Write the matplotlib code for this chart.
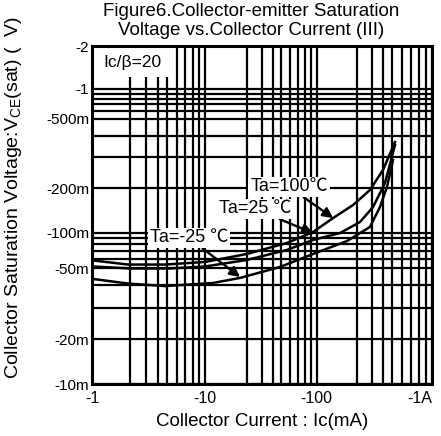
import numpy as np
import matplotlib
matplotlib.use("Agg")
import matplotlib.pyplot as plt
from matplotlib.ticker import FixedLocator, FixedFormatter, NullFormatter
from matplotlib.patches import Rectangle

plt.rcParams['font.family'] = ['Liberation Sans', 'DejaVu Sans']
plt.rcParams['mathtext.fontset'] = 'custom'
plt.rcParams['mathtext.rm'] = 'Liberation Sans'

# ---------------- data ----------------
ic_100 = [1.02, 1.93, 4.76, 10, 20, 56, 93, 133, 188, 283, 398, 529]
vce_100 = [0.058, 0.0535, 0.0535, 0.0563, 0.0658, 0.0817, 0.101, 0.1256, 0.1537, 0.194, 0.254, 0.368]

ic_25 = [1.02, 2.0, 5.28, 10, 20, 56, 93, 150, 218, 307, 419, 529]
vce_25 = [0.0515, 0.0497, 0.0497, 0.0515, 0.0585, 0.0712, 0.0867, 0.0994, 0.118, 0.149, 0.2136, 0.354]

ic_m25 = [1.02, 1.93, 4.76, 11.4, 17.9, 48.7, 93, 169, 283, 368, 442, 511]
vce_m25 = [0.0434, 0.0409, 0.0396, 0.0412, 0.0440, 0.0510, 0.0658, 0.0849, 0.1093, 0.149, 0.203, 0.290]

x_ticks = [1, 10, 100, 1000]
x_ticklabels = ['-1', '-10', '-100', '-1A']
y_ticks = [0.01, 0.02, 0.05, 0.1, 0.2, 0.5, 1, 2]
y_ticklabels = ['-10m', '-20m', '-50m', '-100m', '-200m', '-500m', '-1', '-2']

# ---------------- scale (piecewise log, as drawn in the original sheet) ----------------
x_anchor_vals = [1, 2, 5, 10, 20, 50, 100, 200, 500, 1000]
x_anchor_pos = [92, 130, 167, 205, 246.7, 281, 316.7, 356.7, 391.7, 432.3]
y_anchor_vals = [0.01, 0.02, 0.05, 0.1, 0.2, 0.5, 1, 2]
y_anchor_pos = [0, 45, 116, 151.3, 196, 265, 295, 338]


def make_scale(vals, pos):
    L = np.log10(np.asarray(vals, float))
    P = np.asarray(pos, float)
    s0 = (P[1] - P[0]) / (L[1] - L[0])
    s1 = (P[-1] - P[-2]) / (L[-1] - L[-2])

    def fwd(v):
        v = np.asarray(v, float)
        lv = np.log10(np.clip(v, 1e-12, None))
        out = np.interp(lv, L, P)
        out = np.where(lv < L[0], P[0] + (lv - L[0]) * s0, out)
        out = np.where(lv > L[-1], P[-1] + (lv - L[-1]) * s1, out)
        return out

    def inv(p):
        p = np.asarray(p, float)
        lv = np.interp(p, P, L)
        lv = np.where(p < P[0], L[0] + (p - P[0]) / s0, lv)
        lv = np.where(p > P[-1], L[-1] + (p - P[-1]) / s1, lv)
        return 10 ** lv

    return fwd, inv


fig = plt.figure(figsize=(4.41, 4.36), dpi=100)
ax = fig.add_axes([92 / 441, 52 / 436, 340.3 / 441, 338 / 436])

ax.set_xscale('function', functions=make_scale(x_anchor_vals, x_anchor_pos))
ax.set_yscale('function', functions=make_scale(y_anchor_vals, y_anchor_pos))
ax.set_xlim(1, 1000)
ax.set_ylim(0.01, 2)

x_minor = [m * d for d in (1, 10, 100) for m in range(2, 10)]
y_minor = [m * d for d in (0.01, 0.1) for m in range(2, 10) if m not in (2, 5)]

ax.xaxis.set_major_locator(FixedLocator(x_ticks))
ax.xaxis.set_major_formatter(FixedFormatter(x_ticklabels))
ax.xaxis.set_minor_locator(FixedLocator(x_minor))
ax.xaxis.set_minor_formatter(NullFormatter())
ax.yaxis.set_major_locator(FixedLocator(y_ticks))
ax.yaxis.set_major_formatter(FixedFormatter(y_ticklabels))
ax.yaxis.set_minor_locator(FixedLocator(y_minor))
ax.yaxis.set_minor_formatter(NullFormatter())

ax.grid(which='both', color='black', linewidth=1.6)
ax.tick_params(which='both', length=0, colors='black')
ax.tick_params(axis='x', pad=5, labelsize=11.5)
ax.tick_params(axis='y', pad=2, labelsize=11)
for sp in ax.spines.values():
    sp.set_linewidth(2.2)
    sp.set_zorder(5)

fig.canvas.draw()
xl = ax.get_xticklabels()
xl[-1].set_horizontalalignment('right')

for xs, ys in ((ic_100, vce_100), (ic_25, vce_25), (ic_m25, vce_m25)):
    ax.plot(xs, ys, color='black', linewidth=1.8, zorder=3)

# Ic/B box
ax.add_patch(Rectangle((0, 0.908), 0.244, 0.092, transform=ax.transAxes,
                       facecolor='white', edgecolor='none', zorder=4))
ax.text(0.12, 0.952, 'Ic/\u03b2=20', transform=ax.transAxes, ha='center', va='center',
        fontsize=12.5, zorder=6)

cjk = ['Liberation Sans', 'Noto Sans CJK SC']
bb = dict(boxstyle='square,pad=0.1', facecolor='white', edgecolor='none')
arr = dict(arrowstyle='-|>', color='black', lw=1.7, mutation_scale=15, shrinkA=0, shrinkB=0)

ax.annotate('Ta=100\u2103', xy=(133, 0.1256), xycoords='data',
            xytext=(0.579, 0.583), textcoords='axes fraction', ha='center', va='center',
            fontsize=13, family=cjk, bbox=bb, arrowprops=arr, zorder=6)
ax.annotate('Ta=25 \u2103', xy=(93, 0.0994), xycoords='data',
            xytext=(0.479, 0.518), textcoords='axes fraction', ha='center', va='center',
            fontsize=13, family=cjk, bbox=bb, arrowprops=arr, zorder=6)
ax.annotate('Ta=-25 \u2103', xy=(17.9, 0.0445), xycoords='data',
            xytext=(0.285, 0.432), textcoords='axes fraction', ha='center', va='center',
            fontsize=13, family=cjk, bbox=bb, arrowprops=arr, zorder=6)

ax.set_title('Figure6.Collector-emitter Saturation\nVoltage vs.Collector Current (III)',
             fontsize=13.5, pad=8, linespacing=1.15, x=0.468)
ax.set_xlabel('Collector Current : Ic(mA)', fontsize=13.5, labelpad=5)
fig.text(14 / 441, 0.548, r'Collector Saturation Voltage:V$\mathregular{_{CE}}$(sat) (  V)',
         rotation=90, ha='center', va='center', fontsize=14)

fig.savefig('out.png', dpi=100)
